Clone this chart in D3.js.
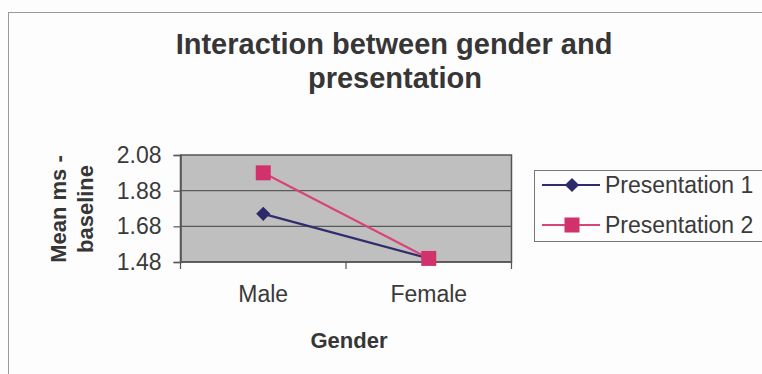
<!DOCTYPE html>
<html>
<head>
<meta charset="utf-8">
<script src="https://cdn.jsdelivr.net/npm/d3@7"></script>
<style>
  html, body { margin: 0; padding: 0; background: #fdfdfd; }
  svg { display: block; }
  text { font-family: Arial, "Liberation Sans", sans-serif; }
</style>
</head>
<body>
<svg id="chart" width="762" height="374"></svg>
<script>
// Mean ms - baseline, by gender, for each presentation
const categories = ["Male", "Female"];
const seriesNames = ["Presentation 1", "Presentation 2"];
const presentation1 = [1.75, 1.50];
const presentation2 = [1.98, 1.50];
const yTicks = [1.48, 1.68, 1.88, 2.08];

const svg = d3.select("#chart");
const W = 762, H = 374;

// outer chart frame
svg.append("rect")
  .attr("x", 8.5).attr("y", 12.5)
  .attr("width", W + 20).attr("height", H + 20)
  .attr("fill", "#fdfdfd").attr("stroke", "#9a9a9a").attr("stroke-width", 1);

// title
const title = svg.append("text")
  .attr("text-anchor", "middle")
  .attr("font-size", 29).attr("font-weight", "bold").attr("fill", "#363636");
title.append("tspan").attr("x", 394).attr("y", 54).text("Interaction between gender and");
title.append("tspan").attr("x", 395).attr("y", 88).text("presentation");

// plot area
const plot = { left: 180.5, right: 511.5, top: 155, bottom: 262 };

const x = d3.scaleBand()
  .domain(categories)
  .range([plot.left, plot.right])
  .padding(0);

const y = d3.scaleLinear()
  .domain([yTicks[0], yTicks[yTicks.length - 1]])
  .range([plot.bottom, plot.top]);

// grey fill of the plot area
svg.append("rect")
  .attr("x", plot.left).attr("y", plot.top)
  .attr("width", plot.right - plot.left).attr("height", plot.bottom - plot.top)
  .attr("fill", "#bfbfbf");

// horizontal gridlines
svg.append("g")
  .selectAll("line")
  .data(yTicks.slice(1, -1))
  .join("line")
  .attr("x1", plot.left).attr("x2", plot.right)
  .attr("y1", d => y(d)).attr("y2", d => y(d))
  .attr("stroke", "#5a5a5a").attr("stroke-width", 1.2);

// plot border
svg.append("rect")
  .attr("x", plot.left).attr("y", plot.top)
  .attr("width", plot.right - plot.left).attr("height", plot.bottom - plot.top)
  .attr("fill", "none").attr("stroke", "#555").attr("stroke-width", 1.5);

// y axis
const yAxis = svg.append("g")
  .attr("transform", `translate(${plot.left},0)`)
  .call(d3.axisLeft(y).tickValues(yTicks).tickFormat(d3.format(".2f")).tickSize(7).tickPadding(12));
yAxis.select(".domain").attr("stroke", "#555").attr("stroke-width", 1.5);
yAxis.selectAll(".tick line").attr("stroke", "#555").attr("stroke-width", 1.2);
yAxis.selectAll(".tick text")
  .attr("font-size", 23).attr("fill", "#3a3a3a")
  .attr("font-family", "Arial, 'Liberation Sans', sans-serif");

// x axis: ticks sit on category boundaries, labels at band centres
const xAxis = svg.append("g").attr("transform", `translate(0,${plot.bottom})`);
xAxis.append("line")
  .attr("x1", plot.left).attr("x2", plot.right)
  .attr("stroke", "#555").attr("stroke-width", 1.5);
const boundaries = categories.map(c => x(c)).concat([x(categories[categories.length - 1]) + x.bandwidth()]);
xAxis.selectAll("line.tick")
  .data(boundaries)
  .join("line")
  .attr("class", "tick")
  .attr("x1", d => d).attr("x2", d => d)
  .attr("y1", 0).attr("y2", 7)
  .attr("stroke", "#555").attr("stroke-width", 1.2);
xAxis.selectAll("text")
  .data(categories)
  .join("text")
  .attr("x", d => x(d) + x.bandwidth() / 2)
  .attr("y", 40)
  .attr("text-anchor", "middle")
  .attr("font-size", 23).attr("fill", "#3a3a3a")
  .text(d => d);

// axis titles
svg.append("text")
  .attr("x", 349).attr("y", 348)
  .attr("text-anchor", "middle")
  .attr("font-size", 22).attr("font-weight", "bold").attr("fill", "#363636")
  .text("Gender");

const yTitle = svg.append("text")
  .attr("transform", "rotate(-90)")
  .attr("text-anchor", "middle")
  .attr("font-size", 22).attr("font-weight", "bold").attr("fill", "#363636");
yTitle.append("tspan").attr("x", -209).attr("y", 66).text("Mean ms -");
yTitle.append("tspan").attr("x", -209).attr("y", 93).text("baseline");

// series
const colors = ["#2e2a6a", "#d2326c"];
const lineColors = ["#302c6e", "#d94478"];
const series = [presentation1, presentation2].map((vals, i) => ({
  name: seriesNames[i],
  points: categories.map((c, j) => ({ cat: c, value: vals[j] }))
}));

const line = d3.line()
  .x(d => x(d.cat) + x.bandwidth() / 2)
  .y(d => y(d.value));

const diamond = d3.symbol().type(d3.symbolDiamond2).size(128);
const square = d3.symbol().type(d3.symbolSquare).size(225);
const shapes = [diamond, square];

series.forEach((s, i) => {
  svg.append("path")
    .datum(s.points)
    .attr("d", line)
    .attr("fill", "none")
    .attr("stroke", lineColors[i])
    .attr("stroke-width", 2.2);
});
series.forEach((s, i) => {
  svg.append("g")
    .selectAll("path")
    .data(s.points)
    .join("path")
    .attr("transform", d => `translate(${x(d.cat) + x.bandwidth() / 2},${y(d.value)})`)
    .attr("d", shapes[i])
    .attr("fill", colors[i]);
});

// legend
const legend = svg.append("g");
legend.append("rect")
  .attr("x", 534.5).attr("y", 170.5)
  .attr("width", 240).attr("height", 71)
  .attr("fill", "#fdfdfd").attr("stroke", "#777").attr("stroke-width", 1);
const rows = legend.selectAll("g.row")
  .data(series)
  .join("g")
  .attr("class", "row")
  .attr("transform", (d, i) => `translate(0,${185 + i * 40})`);
rows.append("line")
  .attr("x1", 542).attr("x2", 600)
  .attr("stroke", (d, i) => lineColors[i]).attr("stroke-width", 2.2);
rows.append("path")
  .attr("transform", "translate(572,0)")
  .attr("d", (d, i) => shapes[i]())
  .attr("fill", (d, i) => colors[i]);
rows.append("text")
  .attr("x", 605).attr("y", 8)
  .attr("font-size", 23).attr("fill", "#3a3a3a")
  .text(d => d.name);
</script>
</body>
</html>
